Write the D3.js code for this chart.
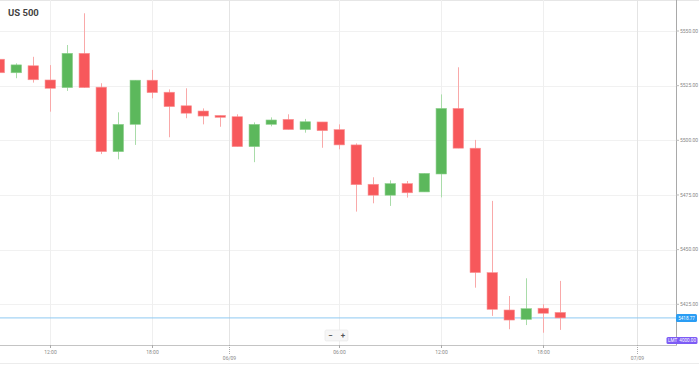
<!DOCTYPE html>
<html lang="en">
<head>
  <meta charset="UTF-8">
  <title>US 500</title>
  <script src="https://d3js.org/d3.v7.min.js"></script>
  <style>
    body { margin: 0; background: #fff; overflow: hidden; }
    svg { display: block; font-family: Roboto, "Open Sans", sans-serif; }
  </style>
</head>
<body>
  <script>
    // hourly candles
    const opens  = [5537.1, 5530.9, 5534.1, 5527.6, 5524.1, 5539.8, 5524.3, 5494.8, 5507.3, 5527.5,
                    5522.0, 5515.8, 5513.4, 5511.4, 5510.8, 5497.1, 5507.3, 5509.6, 5504.9, 5508.4,
                    5504.9, 5497.9, 5479.9, 5474.9, 5480.2, 5476.4, 5484.6, 5514.6, 5496.4, 5439.5,
                    5422.4, 5418.1, 5423.2, 5421.3];
    const highs  = [5538.1, 5535.2, 5538.2, 5534.4, 5543.6, 5558.1, 5526.1, 5512.8, 5527.5, 5532.2,
                    5523.3, 5523.8, 5514.6, 5511.4, 5511.9, 5508.2, 5510.5, 5511.9, 5509.8, 5508.4,
                    5507.3, 5498.6, 5483.1, 5481.7, 5481.4, 5484.9, 5521.0, 5533.4, 5500.2, 5472.3,
                    5428.8, 5436.9, 5425.0, 5435.7];
    const lows   = [5530.3, 5528.4, 5526.4, 5513.1, 5522.6, 5524.0, 5493.7, 5491.3, 5497.9, 5519.2,
                    5501.4, 5510.1, 5507.3, 5506.2, 5497.1, 5490.0, 5506.4, 5504.9, 5503.5, 5496.6,
                    5495.9, 5467.4, 5471.2, 5470.0, 5473.8, 5476.4, 5473.9, 5496.4, 5432.6, 5419.7,
                    5413.6, 5415.5, 5412.0, 5413.3];
    const closes = [5530.9, 5534.5, 5527.7, 5523.8, 5539.8, 5524.1, 5494.8, 5507.3, 5527.5, 5521.8,
                    5515.4, 5512.4, 5511.1, 5510.5, 5497.1, 5507.3, 5509.3, 5504.9, 5508.5, 5504.4,
                    5497.9, 5479.7, 5474.9, 5480.2, 5476.0, 5484.9, 5514.6, 5496.4, 5439.5, 5422.7,
                    5417.8, 5423.0, 5420.9, 5418.77];

    const priceTicks = [5550, 5525, 5500, 5475, 5450, 5425];
    const timeTicks  = [3, 9, 20, 26, 32];
    const timeLabels = ["12:00", "18:00", "06:00", "12:00", "18:00"];
    const dateTicks  = [13.5, 37.5];
    const dateLabels = ["06/09", "07/09"];
    const lastPrice = 5418.77;
    const limitLabel = "LMT  4000.00";

    const width = 699, height = 365;
    const plotRight = 676, plotBottom = 345;

    const candles = opens.map((o, i) => ({
      i, o, h: highs[i], l: lows[i], c: closes[i]
    }));

    const x = d3.scaleLinear().domain([0, 1]).range([-0.7, 16.3]);
    const y = d3.scaleLinear().domain([5425, 5550]).range([304.3, 31]);

    const svg = d3.select("body").append("svg")
      .attr("width", width)
      .attr("height", height);

    // frame lines
    svg.append("line")
      .attr("x1", 0).attr("x2", width).attr("y1", 0.5).attr("y2", 0.5)
      .attr("stroke", "#e6e6e6");

    // horizontal grid
    svg.append("g").selectAll("line")
      .data(priceTicks)
      .join("line")
      .attr("x1", 0).attr("x2", plotRight)
      .attr("y1", d => Math.round(y(d)) + 0.5)
      .attr("y2", d => Math.round(y(d)) + 0.5)
      .attr("stroke", "#f1f1f1");

    // vertical grid
    svg.append("g").selectAll("line")
      .data(timeTicks)
      .join("line")
      .attr("x1", d => Math.round(x(d)) + 0.5)
      .attr("x2", d => Math.round(x(d)) + 0.5)
      .attr("y1", 0).attr("y2", plotBottom)
      .attr("stroke", "#efefef");

    svg.append("g").selectAll("line")
      .data(dateTicks)
      .join("line")
      .attr("x1", d => Math.round(x(d)) + 0.5)
      .attr("x2", d => Math.round(x(d)) + 0.5)
      .attr("y1", 0).attr("y2", plotBottom)
      .attr("stroke", "#e4e4e4");

    // current price line
    svg.append("line")
      .attr("x1", 0).attr("x2", plotRight)
      .attr("y1", y(lastPrice)).attr("y2", y(lastPrice))
      .attr("stroke", "#8ec9f2");

    // candles
    const bw = 10.5;
    const g = svg.append("g");
    const up = d => d.c >= d.o;

    g.selectAll(".wick")
      .data(candles)
      .join("line")
      .attr("class", "wick")
      .attr("x1", d => Math.round(x(d.i)) + 0.5)
      .attr("x2", d => Math.round(x(d.i)) + 0.5)
      .attr("y1", d => y(d.h))
      .attr("y2", d => y(d.l))
      .attr("stroke", d => up(d) ? "#a9dca9" : "#f9a9a9");

    g.selectAll(".body")
      .data(candles)
      .join("rect")
      .attr("class", "body")
      .attr("x", d => x(d.i) - bw / 2)
      .attr("width", bw)
      .attr("y", d => y(Math.max(d.o, d.c)))
      .attr("height", d => Math.max(1.5, Math.abs(y(d.o) - y(d.c))))
      .attr("fill", d => up(d) ? "#5cb85c" : "#f7585b")
      .attr("stroke", d => up(d) ? "#8fd18f" : "#fb9597")
      .attr("stroke-width", 0.6);

    // right axis
    svg.append("line")
      .attr("x1", plotRight + 0.5).attr("x2", plotRight + 0.5)
      .attr("y1", 0).attr("y2", plotBottom)
      .attr("stroke", "#a9a9a9");

    const yAxis = svg.append("g").selectAll("g")
      .data(priceTicks)
      .join("g")
      .attr("transform", d => `translate(${plotRight},${y(d)})`);
    yAxis.append("line")
      .attr("x1", 0).attr("x2", 3)
      .attr("stroke", "#bbb");
    yAxis.append("text")
      .attr("x", 4).attr("dy", "0.35em")
      .attr("font-size", 5)
      .attr("fill", "#888")
      .text(d => d3.format(".2f")(d));

    // price labels
    svg.append("rect")
      .attr("x", plotRight).attr("y", y(lastPrice) - 4)
      .attr("width", 21).attr("height", 8).attr("rx", 1.5)
      .attr("fill", "#2a9df4");
    svg.append("text")
      .attr("x", plotRight + 10.5).attr("y", y(lastPrice)).attr("dy", "0.35em")
      .attr("text-anchor", "middle")
      .attr("font-size", 4.6).attr("fill", "#fff")
      .text(lastPrice.toFixed(2));

    svg.append("rect")
      .attr("x", 666.5).attr("y", 337)
      .attr("width", 31).attr("height", 7).attr("rx", 1.5)
      .attr("fill", "#7d5cf5");
    svg.append("text")
      .attr("x", 682).attr("y", 340.6).attr("dy", "0.35em")
      .attr("text-anchor", "middle")
      .attr("font-size", 4.6).attr("fill", "#fff")
      .attr("xml:space", "preserve")
      .text(limitLabel);

    // bottom axis
    svg.append("line")
      .attr("x1", 0).attr("x2", plotRight + 1)
      .attr("y1", plotBottom + 0.5).attr("y2", plotBottom + 0.5)
      .attr("stroke", "#c4c4c4");
    svg.append("line")
      .attr("x1", 0).attr("x2", width)
      .attr("y1", 363.5).attr("y2", 363.5)
      .attr("stroke", "#ececec");

    const tx = svg.append("g").selectAll("g")
      .data(timeTicks)
      .join("g")
      .attr("transform", (d) => `translate(${Math.round(x(d)) + 0.5},${plotBottom})`);
    tx.append("line").attr("y1", 0).attr("y2", 3).attr("stroke", "#aaa");
    tx.append("text")
      .attr("y", 7.5).attr("dy", "0.35em")
      .attr("text-anchor", "middle")
      .attr("font-size", 5).attr("fill", "#888")
      .text((d, i) => timeLabels[i]);

    const dx = svg.append("g").selectAll("g")
      .data(dateTicks)
      .join("g")
      .attr("transform", (d) => `translate(${Math.round(x(d)) + 0.5},${plotBottom})`);
    dx.append("line").attr("y1", 0).attr("y2", 9)
      .attr("stroke", "#aaa").attr("stroke-dasharray", "1,1");
    dx.append("text")
      .attr("y", 13.5).attr("dy", "0.35em")
      .attr("text-anchor", "middle")
      .attr("font-size", 5).attr("fill", "#888")
      .text((d, i) => dateLabels[i]);

    // zoom buttons
    const zb = svg.append("g").attr("transform", "translate(325,330)");
    zb.append("rect")
      .attr("width", 23).attr("height", 11).attr("rx", 1.5)
      .attr("fill", "#f6f6f6").attr("stroke", "#e6e6e6").attr("stroke-width", 0.6);
    zb.append("text").attr("x", 5.5).attr("y", 5.5).attr("dy", "0.35em")
      .attr("text-anchor", "middle").attr("font-size", 8).attr("font-weight", "bold")
      .attr("fill", "#555").text("−");
    zb.append("text").attr("x", 18).attr("y", 5.5).attr("dy", "0.35em")
      .attr("text-anchor", "middle").attr("font-size", 8).attr("font-weight", "bold")
      .attr("fill", "#555").text("+");

    // title
    svg.append("text")
      .attr("x", 8).attr("y", 12.5).attr("dy", "0.35em")
      .attr("font-size", 9.5).attr("font-weight", "bold")
      .attr("fill", "#444")
      .text("US 500");
  </script>
</body>
</html>
